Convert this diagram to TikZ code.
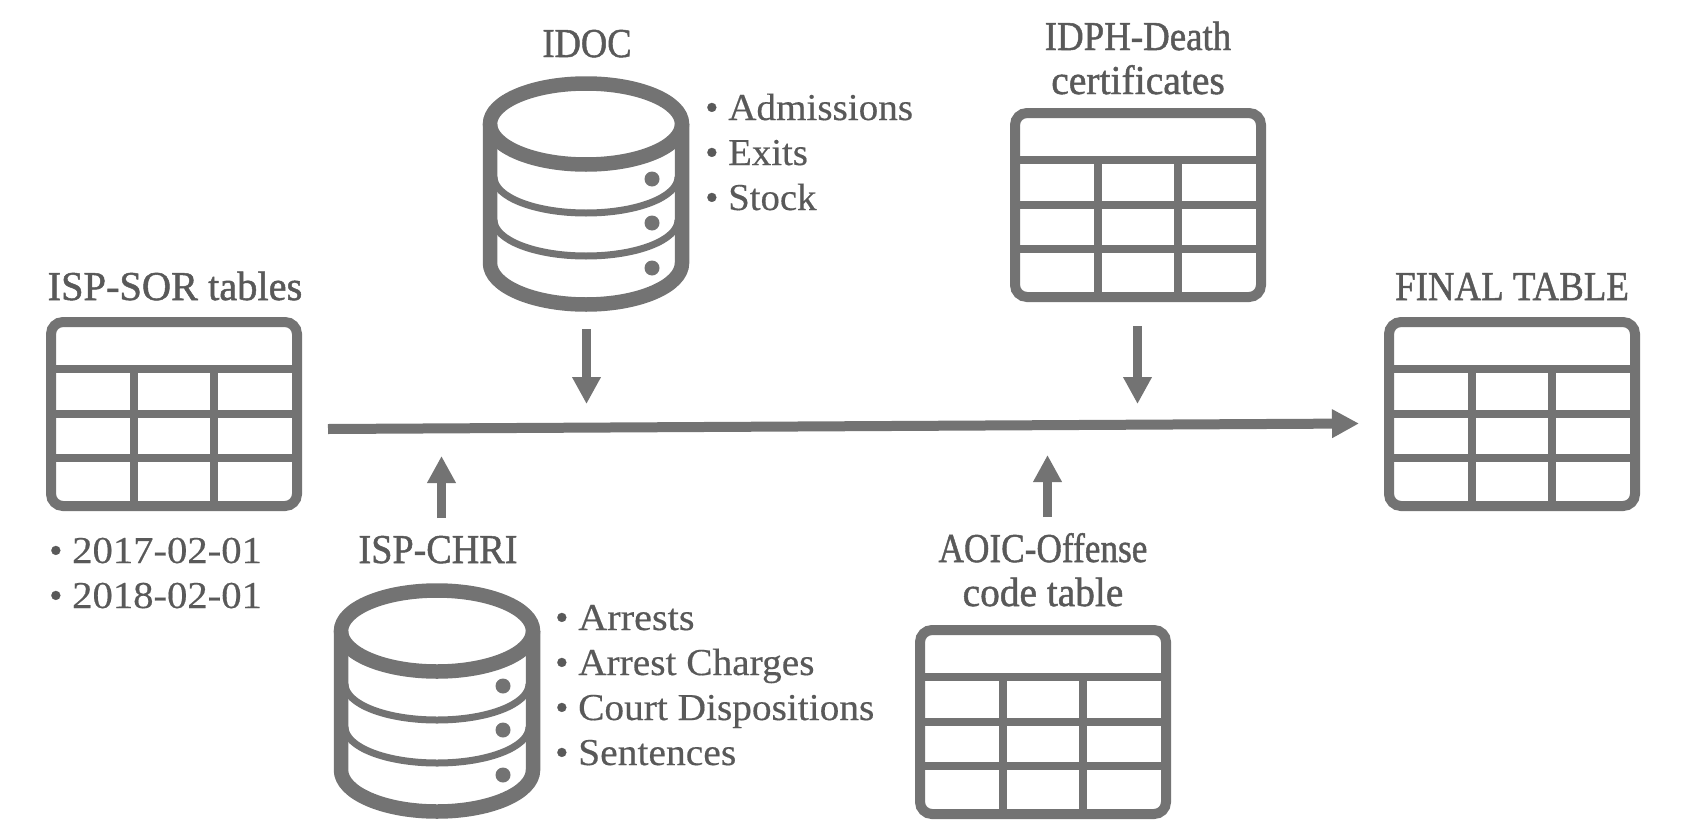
\documentclass[tikz,border=0pt]{standalone}
\usepackage{fontspec}
\usepackage{graphicx}
\setmainfont{Liberation Serif}
\newfontfamily\titlefont[FakeBold=1.2]{Liberation Serif}
\newfontfamily\listfont[FakeBold=0.4]{Liberation Serif}
\usepackage{xcolor}
\usetikzlibrary{arrows.meta, positioning}
\definecolor{shapegray}{HTML}{737373}
\definecolor{textgray}{HTML}{595959}
\newcommand{\blt}{\makebox[23pt][l]{•}}
\newcommand{\fitw}[2]{\scalebox{#1}[1]{#2}}
\tikzset{
  title/.style={text=textgray,inner sep=0pt,anchor=base,align=center,font=\titlefont\fontsize{41}{44}\selectfont},
  listing/.style={text=textgray,inner sep=0pt,anchor=base west,font=\listfont\fontsize{38}{45}\selectfont},
  flow/.style={draw=shapegray,line width=9pt,-{Triangle[length=27pt,width=27pt]}},
  sheet/.pic={
    \draw[draw=shapegray,line width=10pt,rounded corners=12pt] (5,5) rectangle (251,189);
    \draw[draw=shapegray,line width=8pt] (5,52) -- (251,52);
    \draw[draw=shapegray,line width=8pt] (5,97) -- (251,97);
    \draw[draw=shapegray,line width=8pt] (5,141) -- (251,141);
    \draw[draw=shapegray,line width=8pt] (88,52) -- (88,189);
    \draw[draw=shapegray,line width=8pt] (168,52) -- (168,189);
  },
  barrel/.pic={
    \draw[draw=shapegray,line width=14.5pt] (0,0) ellipse [x radius=96,y radius=40.5];
    \draw[draw=shapegray,line width=14.5pt] (-96,0) -- (-96,139) .. controls (-96,162) and (-53,180.5) .. (0,180.5) .. controls (53,180.5) and (96,162) .. (96,139) -- (96,0);
    \draw[draw=shapegray,line width=7pt] (-92,53) .. controls (-92,73) and (-51,89) .. (0,89) .. controls (51,89) and (92,73) .. (92,53);
    \draw[draw=shapegray,line width=7pt] (-92,96) .. controls (-92,116) and (-51,132) .. (0,132) .. controls (51,132) and (92,116) .. (92,96);
    \fill[shapegray] (66,55) circle (7.5pt);
    \fill[shapegray] (66,99) circle (7.5pt);
    \fill[shapegray] (66,144) circle (7.5pt);
  }
}
\begin{document}
\begin{tikzpicture}[x=1pt,y=-1pt]
  \useasboundingbox (0,0) rectangle (1685,819);

  \pic at (46,317) {sheet};
  \pic at (1010,108) {sheet};
  \pic at (1384,317) {sheet};
  \pic at (915,625) {sheet};
  \pic at (586,124) {barrel};
  \pic at (437,631) {barrel};

  \node[title] (sortitle) at (175,300) {\fitw{0.985}{ISP-SOR tables}};
  \node[title] (idoctitle) at (587,57) {\fitw{0.89}{IDOC}};
  \node[title] (idphtitle) at (1138,50) {\fitw{0.9}{IDPH-Death}};
  \node[title] (idphsub) at (1138,94) {\fitw{0.965}{certificates}};
  \node[title] (finaltitle) at (1512,300) {\fitw{0.9}{FINAL TABLE}};
  \node[title] (chrititle) at (438,563) {\fitw{0.93}{ISP-CHRI}};
  \node[title] (aoictitle) at (1043,562) {\fitw{0.86}{AOIC-Offense}};
  \node[title] (aoicsub) at (1043,606) {\fitw{0.96}{code table}};

  \node[listing] (idoc1) at (705,120) {\blt \fitw{1.03}{Admissions}};
  \node[listing] (idoc2) at (705,165) {\blt \fitw{1.02}{Exits}};
  \node[listing] (idoc3) at (705,210) {\blt \fitw{1.02}{Stock}};
  \node[listing] (sor1) at (49,563) {\blt \fitw{1.07}{2017-02-01}};
  \node[listing] (sor2) at (49,608) {\blt \fitw{1.07}{2018-02-01}};
  \node[listing] (chri1) at (555,630) {\blt \fitw{1.06}{Arrests}};
  \node[listing] (chri2) at (555,675) {\blt \fitw{1.035}{Arrest Charges}};
  \node[listing] (chri3) at (555,720) {\blt \fitw{1.035}{Court Dispositions}};
  \node[listing] (chri4) at (555,765) {\blt \fitw{1.04}{Sentences}};

  \coordinate (mainin) at (328,429);
  \coordinate (mainout) at (1359,423.5);
  \coordinate (idocout) at (586.5,329);
  \coordinate (idocin) at (586.5,404);
  \coordinate (idphout) at (1137.5,326);
  \coordinate (idphin) at (1137.5,404);
  \coordinate (chriout) at (441.5,518);
  \coordinate (chriin) at (441.5,456);
  \coordinate (aoicout) at (1047.5,517);
  \coordinate (aoicin) at (1047.5,455);

  \draw[flow,line width=10pt] (mainin) -- (mainout);
  \draw[flow] (idocout) -- (idocin);
  \draw[flow] (idphout) -- (idphin);
  \draw[flow] (chriout) -- (chriin);
  \draw[flow] (aoicout) -- (aoicin);
\end{tikzpicture}
\end{document}
